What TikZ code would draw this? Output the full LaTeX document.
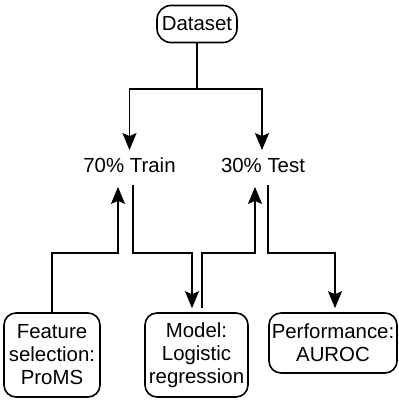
\documentclass[tikz,border=0pt]{standalone}
\usepackage{fontspec}
\setmainfont{Liberation Sans}
\usetikzlibrary{arrows.meta}

\begin{document}
\begin{tikzpicture}[x=0.5pt,y=0.5pt,
  box/.style={draw,line width=0.8pt,rounded corners=6pt,align=center,inner sep=0pt},
  split/.style={inner xsep=0pt,inner ysep=4pt,text height=7pt,text depth=0pt},
  link/.style={line width=0.9pt},
  arr/.style={link,-{Stealth[length=8.5pt,width=7pt,inset=1.5pt]}}]
\useasboundingbox (0,0) rectangle (398,403);
\fontsize{10.2}{11.5}\selectfont

% source and the two parts
\node[box,rounded corners=7pt,minimum width=40pt,minimum height=18.5pt] (data) at (197,379) {Dataset};
\node[split] (train) at (129.5,237.5) {70\% Train};
\node[split] (test) at (263,237.5) {30\% Test};

% steps underneath
\node[box,minimum width=48pt,minimum height=42pt] (feat) at (52,48) {Feature\\selection:\\ProMS};
\node[box,minimum width=51.5pt,minimum height=42pt] (model) at (196.5,48) {Model:\\Logistic\\regression};
\node[box,minimum width=64pt,minimum height=30pt] (perf) at (333,60) {Performance:\\AUROC};

% dataset split
\draw[link] (data.south) -- ++(0,-46) coordinate (fork);
\draw[arr] (fork) -| (train.north);
\draw[arr] (fork) -| ([xshift=-0.5pt]test.north);

% feature selection on train
\draw[arr,shorten >=3pt] (feat.north) -- ++(0,59) -| ([xshift=-5.75pt]train.south);
\draw[arr,shorten >=2pt] ([shift={(1.75pt,-2pt)}]train.south) -- ++(0,-68) -| ([xshift=-2.25pt]model.north);

% model on test, then scoring
\draw[arr,shorten >=3pt] ([shift={(2.75pt,2pt)}]model.north) -- ++(0,55) -| ([xshift=-4pt]test.south);
\draw[arr,shorten >=2pt] ([shift={(2.5pt,-2pt)}]test.south) -- ++(0,-68) -| ([xshift=1pt]perf.north);
\end{tikzpicture}
\end{document}
